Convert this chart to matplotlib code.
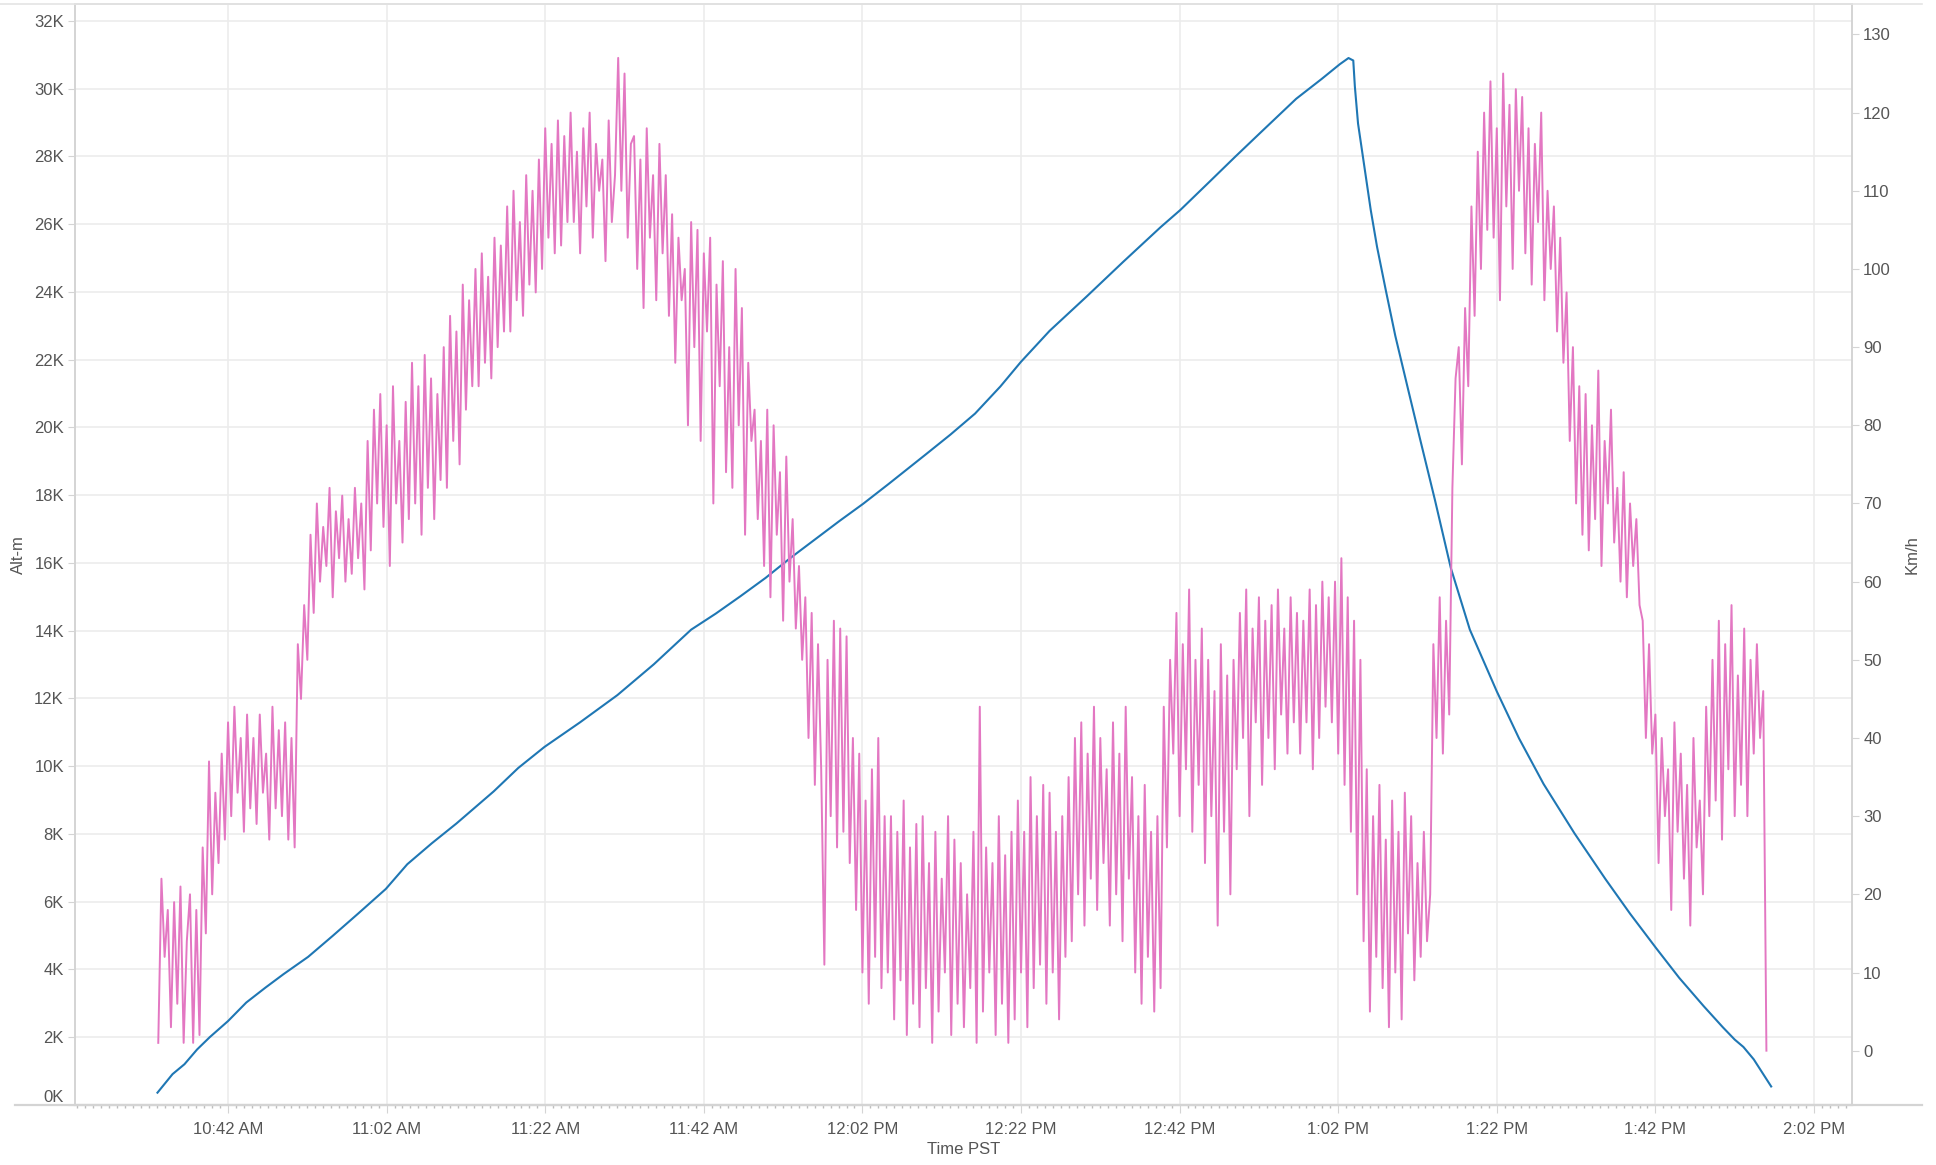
import matplotlib
matplotlib.use('Agg')
import matplotlib.pyplot as plt
from matplotlib.ticker import MultipleLocator, FuncFormatter, FixedLocator
from matplotlib.lines import Line2D

plt.rcParams['font.family'] = ['Liberation Sans', 'DejaVu Sans']

# altitude trace (minutes after 10:00 AM, metres)
alt_time = [33.1, 35.0, 36.5, 38.1, 39.7, 42.0, 44.3, 46.7, 49.0, 52.1, 55.2, 58.4,
            61.9, 64.6, 67.7, 70.8, 75.5, 78.6, 81.9, 86.4, 91.1, 95.7, 100.4, 103.5,
            106.6, 109.8, 112.9, 116.0, 119.1, 122.1, 125.3, 130.0, 133.1, 136.2, 139.4,
            142.0, 145.6, 150.3, 154.9, 159.6, 162.1, 165.8, 169.0, 172.1, 176.7, 179.9,
            182.2, 183.3, 183.9, 184.1, 184.5, 185.3, 186.1, 186.9, 188.0, 189.2, 190.8,
            192.3, 194.2, 196.2, 198.6, 202.0, 204.8, 207.9, 211.8, 215.7, 218.8, 222.1,
            225.0, 228.1, 230.5, 232.0, 233.1, 234.4, 235.6, 236.6]
alt_m = [364, 911, 1203, 1640, 2004, 2478, 3025, 3462, 3863, 4373, 4993, 5649,
         6378, 7106, 7726, 8309, 9257, 9949, 10569, 11297, 12099, 13010, 14031, 14504,
         15015, 15561, 16144, 16691, 17238, 17748, 18331, 19206, 19789, 20408, 21210,
         21939, 22850, 23870, 24891, 25911, 26421, 27259, 27988, 28680, 29701, 30284,
         30721, 30904, 30831, 30066, 28972, 27697, 26421, 25328, 24052, 22704, 21137,
         19679, 17857, 15853, 14031, 12208, 10823, 9475, 8017, 6669, 5649, 4628,
         3754, 2915, 2296, 1931, 1713, 1348, 911, 547]

# speed samples, one every 0.4 min starting 10:33
speed_start = 33.2
speed_step = 0.4
speed_kmh = [
    1, 22, 12, 18, 3, 19, 6, 21, 1, 14,
    20, 1, 18, 2, 26, 15, 37, 20, 33, 24,
    38, 27, 42, 30, 44, 33, 40, 28, 43, 31,
    40, 29, 43, 33, 38, 27, 44, 31, 41, 30,
    42, 27, 40, 26, 52, 45, 57, 50, 66, 56,
    70, 60, 67, 62, 72, 58, 69, 63, 71, 60,
    68, 61, 72, 63, 70, 59, 78, 64, 82, 70,
    84, 67, 80, 62, 85, 70, 78, 65, 83, 68,
    88, 70, 85, 66, 89, 72, 86, 68, 84, 73,
    90, 72, 94, 78, 92, 75, 98, 82, 96, 85,
    100, 85, 102, 88, 99, 86, 104, 90, 103, 92,
    108, 92, 110, 96, 106, 94, 112, 98, 110, 97,
    114, 100, 118, 104, 116, 102, 119, 103, 117, 106,
    120, 106, 115, 102, 118, 108, 120, 104, 116, 110,
    114, 101, 119, 106, 112, 127, 110, 125, 104, 116,
    117, 100, 114, 95, 118, 104, 112, 96, 116, 102,
    112, 94, 107, 88, 104, 96, 100, 80, 106, 90,
    105, 78, 102, 92, 104, 70, 98, 85, 101, 74,
    90, 72, 100, 80, 95, 66, 88, 78, 82, 68,
    78, 62, 82, 58, 80, 66, 74, 55, 76, 60,
    68, 54, 62, 50, 58, 40, 56, 34, 52, 36,
    11, 50, 30, 55, 26, 54, 28, 53, 24, 40,
    18, 38, 10, 32, 6, 36, 12, 40, 8, 30,
    10, 30, 4, 28, 9, 32, 2, 26, 6, 29,
    3, 30, 8, 24, 1, 28, 5, 22, 10, 30,
    2, 27, 6, 24, 3, 20, 8, 28, 1, 44,
    5, 26, 10, 24, 2, 30, 6, 25, 1, 28,
    4, 32, 10, 28, 3, 35, 8, 30, 11, 34,
    6, 33, 10, 28, 4, 30, 12, 35, 14, 40,
    20, 42, 16, 38, 22, 44, 18, 40, 24, 36,
    16, 42, 20, 38, 14, 44, 22, 35, 10, 30,
    6, 34, 12, 28, 5, 30, 8, 44, 26, 50,
    38, 56, 30, 52, 36, 59, 28, 50, 34, 54,
    24, 50, 30, 46, 16, 52, 28, 48, 20, 50,
    36, 56, 40, 59, 30, 54, 42, 58, 34, 55,
    40, 57, 36, 59, 43, 54, 38, 58, 42, 56,
    38, 55, 42, 59, 36, 57, 40, 60, 44, 58,
    42, 60, 38, 63, 34, 58, 28, 55, 20, 50,
    14, 36, 5, 30, 12, 34, 8, 27, 3, 32,
    10, 28, 4, 33, 15, 30, 9, 24, 12, 28,
    14, 20, 52, 40, 58, 38, 55, 43, 72, 86,
    90, 75, 95, 85, 108, 94, 115, 100, 120, 105,
    124, 104, 118, 96, 125, 108, 121, 100, 123, 110,
    122, 102, 118, 98, 116, 106, 120, 96, 110, 100,
    108, 92, 104, 88, 97, 78, 90, 70, 85, 66,
    84, 64, 80, 68, 87, 62, 78, 70, 82, 65,
    72, 60, 74, 58, 70, 62, 68, 57, 55, 40,
    52, 38, 43, 24, 40, 30, 36, 18, 42, 28,
    38, 22, 34, 16, 40, 26, 32, 20, 44, 30,
    50, 32, 55, 27, 52, 36, 57, 30, 48, 34,
    54, 30, 50, 38, 52, 40, 46, 0,
]
speed_time = [speed_start + speed_step * i for i in range(len(speed_kmh))]

x_ticks = [42, 62, 82, 102, 122, 142, 162, 182, 202, 222, 242]
alt_ticks = list(range(0, 32001, 2000))
speed_ticks = list(range(0, 131, 10))

BLUE = '#1f77b4'
PINK = '#e377c2'
GRID = '#ececec'
AXIS = '#d4d4d4'
TXT = '#555555'


def fmt_time(m, pos=None):
    h = 10 + int(m) // 60
    mm = int(round(m)) % 60
    suffix = 'AM' if h < 12 else 'PM'
    if h > 12:
        h -= 12
    return '{}:{:02d} {}'.format(h, mm, suffix)


fig = plt.figure(figsize=(19.36, 11.65), dpi=100)
ax = fig.add_axes([0.03874, 0.0515, 0.9179, 0.9451])
ax2 = ax.twinx()

ax.plot(alt_time, alt_m, color=BLUE, lw=1.5, solid_joinstyle='round')
ax2.plot(speed_time, speed_kmh, color=PINK, lw=1.4)

ax.set_xlim(22.7, 246.8)
ax.set_ylim(0, 32500)
ax2.set_ylim(-6.95, 133.9)

ax.xaxis.set_major_locator(FixedLocator(x_ticks))
ax.xaxis.set_major_formatter(FuncFormatter(fmt_time))
ax.xaxis.set_minor_locator(MultipleLocator(1))
ax.yaxis.set_major_locator(FixedLocator(alt_ticks))
ax.yaxis.set_major_formatter(FuncFormatter(lambda v, p: '{:.0f}K'.format(v / 1000)))
ax2.yaxis.set_major_locator(FixedLocator(speed_ticks))

ax.grid(True, which='major', color=GRID, lw=1.2)
ax.set_axisbelow(True)

for a in (ax, ax2):
    for s in a.spines.values():
        s.set_color(AXIS)
        s.set_linewidth(1.2)
ax.spines['top'].set_color('#e4e4e4')
ax.spines['bottom'].set_linewidth(1.6)

ax.tick_params(axis='x', which='major', length=6, color=AXIS, labelsize=12,
               labelcolor=TXT, pad=6)
ax.tick_params(axis='x', which='minor', length=2, width=1, color='#bdbdbd')
ax.tick_params(axis='y', length=5, color=AXIS, labelsize=12, labelcolor=TXT, pad=3)
ax2.tick_params(axis='y', length=5, color=AXIS, labelsize=12, labelcolor=TXT, pad=3)

ax.set_xlabel('Time PST', fontsize=12, color=TXT, labelpad=4)
ax.set_ylabel('Alt-m', fontsize=12, color=TXT, labelpad=6)
ax2.set_ylabel('Km/h', fontsize=12, color=TXT, labelpad=10)

# bottom label sits above the axis rule like in Tableau
fig.canvas.draw()
ax.get_yticklabels()[0].set_verticalalignment('bottom')

# Tableau-style axis rule running past the plot area
fig.add_artist(Line2D([15 / 1936, 1922 / 1936], [0.0515, 0.0515],
                      color=AXIS, lw=1.6, transform=fig.transFigure))
fig.add_artist(Line2D([0, 1922 / 1936], [0.9966, 0.9966],
                      color='#e4e4e4', lw=1.2, transform=fig.transFigure))

fig.savefig('out.png', dpi=100)
